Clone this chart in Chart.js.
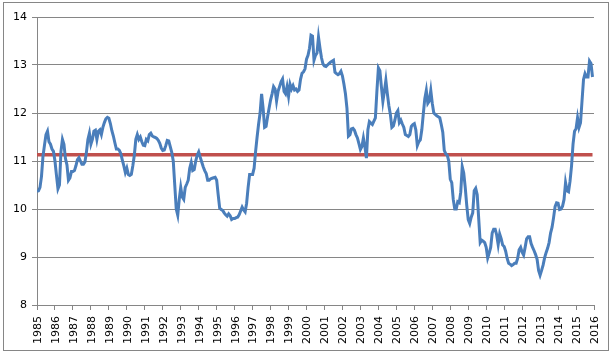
<!DOCTYPE html>
<html>
<head>
<meta charset="utf-8">
<script src="https://cdn.jsdelivr.net/npm/chart.js@4/dist/chart.umd.min.js"></script>
<style>
html,body{margin:0;padding:0;background:#fff;}
canvas{display:block;}
</style>
</head>
<body>
<canvas id="c" width="611" height="353"></canvas>
<script>
// ---- DATA ----
const startYear = 1985;
const endYear = 2016;
const xTickYears = [];
for (let y = startYear; y <= endYear; y++) xTickYears.push(y);
const yTicks = [8, 9, 10, 11, 12, 13, 14];
const averageLevel = 11.13;

const v1985 = [10.37, 10.38, 10.45, 10.68, 11.1, 11.33, 11.55, 11.62, 11.4, 11.35, 11.25, 11.2];
const v1986 = [11.0, 10.7, 10.42, 10.5, 11.2, 11.45, 11.35, 11.05, 10.92, 10.6, 10.65, 10.78];
const v1987 = [10.78, 10.8, 10.9, 11.03, 11.07, 11.0, 10.93, 10.93, 10.98, 11.18, 11.45, 11.58];
const v1988 = [11.35, 11.45, 11.62, 11.64, 11.45, 11.62, 11.65, 11.55, 11.7, 11.8, 11.88, 11.91];
const v1989 = [11.89, 11.78, 11.63, 11.52, 11.38, 11.25, 11.25, 11.22, 11.15, 11.02, 10.9, 10.76];
const v1990 = [10.85, 10.72, 10.7, 10.72, 10.9, 11.12, 11.45, 11.55, 11.45, 11.5, 11.4, 11.33];
const v1991 = [11.32, 11.45, 11.42, 11.55, 11.58, 11.52, 11.5, 11.49, 11.47, 11.43, 11.37, 11.27];
const v1992 = [11.22, 11.23, 11.32, 11.43, 11.42, 11.3, 11.18, 11.0, 10.5, 10.0, 9.87, 10.2];
const v1993 = [10.45, 10.25, 10.2, 10.45, 10.52, 10.6, 10.85, 10.97, 10.8, 10.82, 11.0, 11.12];
const v1994 = [11.19, 11.08, 10.98, 10.88, 10.8, 10.74, 10.6, 10.6, 10.63, 10.64, 10.65, 10.66];
const v1995 = [10.6, 10.3, 10.02, 9.99, 9.97, 9.92, 9.88, 9.85, 9.9, 9.86, 9.78, 9.8];
const v1996 = [9.8, 9.82, 9.83, 9.88, 9.96, 10.04, 9.98, 9.94, 10.12, 10.45, 10.72, 10.72];
const v1997 = [10.72, 10.85, 11.2, 11.5, 11.77, 12.0, 12.4, 12.1, 11.7, 11.72, 11.92, 12.1];
const v1998 = [12.27, 12.4, 12.55, 12.5, 12.25, 12.45, 12.55, 12.65, 12.71, 12.45, 12.4, 12.55];
const v1999 = [12.35, 12.6, 12.5, 12.57, 12.48, 12.5, 12.45, 12.48, 12.7, 12.83, 12.86, 12.92];
const v2000 = [13.12, 13.2, 13.35, 13.62, 13.6, 13.1, 13.2, 13.25, 13.58, 13.35, 13.15, 13.02];
const v2001 = [12.98, 12.97, 13.0, 13.03, 13.06, 13.08, 13.1, 12.85, 12.82, 12.8, 12.82, 12.87];
const v2002 = [12.77, 12.6, 12.4, 12.1, 11.52, 11.55, 11.67, 11.68, 11.64, 11.55, 11.48, 11.36];
const v2003 = [11.24, 11.3, 11.48, 11.3, 11.06, 11.65, 11.82, 11.79, 11.76, 11.83, 11.9, 12.45];
const v2004 = [12.94, 12.88, 12.55, 12.24, 12.45, 12.68, 12.4, 12.15, 11.97, 11.7, 11.73, 11.85];
const v2005 = [12.0, 12.05, 11.8, 11.85, 11.77, 11.7, 11.55, 11.53, 11.51, 11.55, 11.72, 11.76];
const v2006 = [11.78, 11.65, 11.32, 11.4, 11.44, 11.65, 11.98, 12.3, 12.47, 12.2, 12.25, 12.47];
const v2007 = [12.2, 12.0, 11.97, 11.94, 11.92, 11.9, 11.76, 11.6, 11.22, 11.15, 11.12, 11.0];
const v2008 = [10.62, 10.55, 10.2, 10.0, 10.0, 10.15, 10.13, 10.35, 10.88, 10.75, 10.45, 10.08];
const v2009 = [9.78, 9.7, 9.83, 9.92, 10.38, 10.43, 10.3, 9.8, 9.3, 9.35, 9.33, 9.3];
const v2010 = [9.2, 8.98, 9.08, 9.2, 9.5, 9.58, 9.58, 9.46, 9.26, 9.48, 9.38, 9.25];
const v2011 = [9.22, 9.12, 8.97, 8.87, 8.85, 8.82, 8.84, 8.87, 8.87, 8.97, 9.15, 9.2];
const v2012 = [9.1, 9.04, 9.2, 9.38, 9.42, 9.42, 9.28, 9.2, 9.13, 9.05, 8.95, 8.72];
const v2013 = [8.62, 8.72, 8.83, 8.98, 9.09, 9.18, 9.3, 9.5, 9.62, 9.82, 10.05, 10.13];
const v2014 = [10.12, 9.99, 10.0, 10.06, 10.2, 10.55, 10.38, 10.36, 10.58, 10.9, 11.35, 11.62];
const v2015 = [11.67, 11.9, 11.7, 11.8, 12.25, 12.7, 12.82, 12.75, 12.75, 13.08, 13.03, 12.75];

const yearlyValues = [v1985, v1986, v1987, v1988, v1989, v1990, v1991, v1992, v1993, v1994,
  v1995, v1996, v1997, v1998, v1999, v2000, v2001, v2002, v2003, v2004, v2005, v2006, v2007,
  v2008, v2009, v2010, v2011, v2012, v2013, v2014, v2015];

// ---- BUILD ----
const seriesPoints = [];
yearlyValues.forEach((arr, yi) => {
  arr.forEach((v, m) => seriesPoints.push({ x: startYear + yi + m / 12, y: v }));
});
const firstX = seriesPoints[0].x;
const lastX = seriesPoints[seriesPoints.length - 1].x;
const averagePoints = [{ x: firstX, y: averageLevel }, { x: lastX, y: averageLevel }];

const gridColor = '#868686';
const FONT = { family: 'DejaVu Sans', size: 11 };

// vertical year labels, placed through the x scale
const yearLabelsPlugin = {
  id: 'yearLabels',
  afterDraw(chart) {
    const xs = chart.scales.x;
    const ctx = chart.ctx;
    const top = chart.chartArea.bottom + 11;
    ctx.save();
    ctx.fillStyle = '#000';
    ctx.font = '11px "DejaVu Sans"';
    ctx.textAlign = 'right';
    ctx.textBaseline = 'middle';
    xTickYears.forEach(yr => {
      const px = xs.getPixelForValue(yr);
      ctx.save();
      ctx.translate(px + 1, top);
      ctx.rotate(-Math.PI / 2);
      ctx.fillText(String(yr), 0, 0);
      ctx.restore();
    });
    ctx.restore();
  }
};

const framePlugin = {
  id: 'frameBox',
  beforeDraw(chart) {
    const ctx = chart.ctx;
    ctx.save();
    ctx.fillStyle = '#ffffff';
    ctx.fillRect(0, 0, chart.width, chart.height);
    ctx.restore();
  },
  afterDraw(chart) {
    const ctx = chart.ctx;
    ctx.save();
    ctx.strokeStyle = '#868686';
    ctx.lineWidth = 1;
    ctx.strokeRect(3.5, 2.5, 605, 348);
    ctx.restore();
  }
};

new Chart(document.getElementById('c'), {
  type: 'line',
  data: {
    datasets: [
      {
        data: averagePoints,
        borderColor: '#C0504D',
        borderWidth: 3.5,
        pointRadius: 0,
        tension: 0,
        order: 2
      },
      {
        data: seriesPoints,
        borderColor: '#4A7EBB',
        borderWidth: 3,
        pointRadius: 0,
        tension: 0,
        order: 1
      }
    ]
  },
  options: {
    responsive: false,
    animation: false,
    layout: { padding: { left: 0, right: 17, top: 17, bottom: 0 } },
    plugins: { legend: { display: false }, tooltip: { enabled: false } },
    scales: {
      x: {
        type: 'linear',
        min: startYear,
        max: endYear,
        afterFit(scale) { scale.height = 48; },
        afterBuildTicks(scale) { scale.ticks = xTickYears.map(v => ({ value: v })); },
        ticks: {
          display: false,
          autoSkip: false
        },
        grid: {
          drawOnChartArea: false,
          drawTicks: true,
          tickLength: 5,
          color: gridColor
        },
        border: { color: gridColor, width: 1 }
      },
      y: {
        min: 8,
        max: 14,
        afterFit(scale) { scale.width = 37; },
        afterBuildTicks(scale) { scale.ticks = yTicks.map(v => ({ value: v })); },
        ticks: {
          padding: 5,
          color: '#000',
          font: FONT,
          callback: (v) => String(v)
        },
        grid: {
          color: gridColor,
          tickLength: 5,
          drawTicks: true
        },
        border: { color: gridColor, width: 1 }
      }
    }
  },
  plugins: [framePlugin, yearLabelsPlugin]
});
</script>
</body>
</html>
